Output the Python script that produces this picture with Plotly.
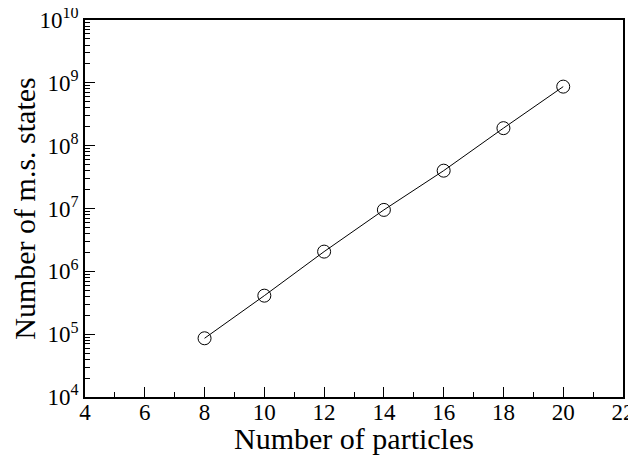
import plotly.graph_objects as go

particles = [8, 10, 12, 14, 16, 18, 20]
states = [8.6e4, 4.1e5, 2.06e6, 9.5e6, 4.0e7, 1.9e8, 8.7e8]

x_ticks = [4, 6, 8, 10, 12, 14, 16, 18, 20, 22]
x_minor = [5, 7, 9, 11, 13, 15, 17, 19, 21]
y_tickvals = [1e4, 1e5, 1e6, 1e7, 1e8, 1e9, 1e10]
y_ticktext = ["10<sup>4</sup>", "10<sup>5</sup>", "10<sup>6</sup>", "10<sup>7</sup>",
              "10<sup>8</sup>", "10<sup>9</sup>", "10<sup>10</sup>"]
y_minor = [m * 10 ** e for e in range(4, 10) for m in range(2, 10)]

font_family = "Liberation Serif"

fig = go.Figure()
fig.add_trace(go.Scatter(
    x=particles, y=states, mode="lines+markers",
    line=dict(color="black", width=1),
    marker=dict(symbol="circle-open", size=13, color="black", line=dict(width=1)),
    showlegend=False,
))

# the page body has an 8px default margin, so the figure is shrunk by 8px
fig.update_layout(
    width=628, height=447,
    margin=dict(l=77, r=13, t=12, b=58),
    paper_bgcolor="white", plot_bgcolor="white",
    font=dict(family=font_family, color="black", size=23),
)
fig.update_xaxes(
    range=[4, 22], tickmode="array", tickvals=x_ticks, ticks="inside", ticklen=10, tickwidth=1.2,
    tickcolor="black", showgrid=False, zeroline=False, automargin=False,
    showline=True, linecolor="black", linewidth=1.5, mirror=True,
    tickfont=dict(size=23, family=font_family), ticklabelstandoff=-6,
    ticklabeloverflow="allow",
    minor=dict(tickmode="array", tickvals=x_minor, ticks="inside", ticklen=5,
               tickcolor="black", tickwidth=1, showgrid=False),
    title=dict(text="Number of particles", font=dict(size=30, family=font_family), standoff=0),
)
fig.update_yaxes(
    type="log", range=[4, 10], tickmode="array", tickvals=y_tickvals, ticktext=y_ticktext,
    ticks="inside", ticklen=10, tickwidth=1.2, tickcolor="black",
    showgrid=False, zeroline=False, automargin=False,
    showline=True, linecolor="black", linewidth=1.5, mirror=True,
    tickfont=dict(size=23, family=font_family), ticklabeloverflow="allow",
    minor=dict(tickmode="array", tickvals=y_minor, ticks="inside", ticklen=5,
               tickcolor="black", tickwidth=1, showgrid=False),
    title=dict(text="Number of m.s. states", font=dict(size=30, family=font_family), standoff=2),
)

fig.write_html("out.html")
